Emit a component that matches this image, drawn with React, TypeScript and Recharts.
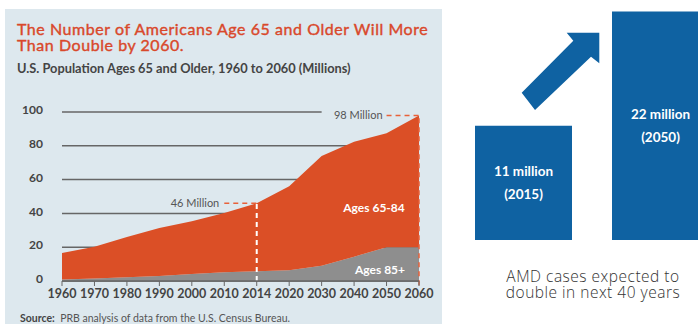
import {
  AreaChart,
  Area,
  XAxis,
  YAxis,
  CartesianGrid,
  ReferenceLine,
  BarChart,
  Bar,
  LabelList,
} from "recharts";

// U.S. population ages 65+, millions
const years = ["1960", "1970", "1980", "1990", "2000", "2010", "2014", "2020", "2030", "2040", "2050", "2060"];
const ages65to84 = [15.6, 18.8, 23.8, 28.3, 31.1, 35.1, 40.2, 49.7, 65, 68, 67.4, 78];
const ages85plus = [0.9, 1.5, 2.2, 3, 4.2, 5.2, 5.8, 6.3, 9, 14.4, 20, 20];
const yTicks = [0, 20, 40, 60, 80, 100];

// AMD cases, millions
const amdValues = [11, 22];
const amdLabels = ["11 million", "22 million"];
const amdYears = ["(2015)", "(2050)"];

const ORANGE = "#db4f26";
const DASH_ORANGE = "#e8613a";
const GRAY = "#8e8e8e";
const BLUE = "#0f62a2";
const PANEL = "#dde8ee";
const TEXT = "#444";

const popData = years.map((year, i) => ({
  year,
  young: ages65to84[i],
  old: ages85plus[i],
}));

const amdData = amdValues.map((value, i) => ({
  name: amdLabels[i],
  value,
  sub: amdYears[i],
}));

function GridLine(props: any) {
  const { x1, y1, x2, y2, y, width } = props;
  // top line stops before the "98 Million" label
  const end = Math.abs(y1 - y) < 1 ? x1 + (width * 8) / 11 : x2;
  return <line x1={x1} y1={y1} x2={end} y2={y2} stroke="#666" strokeWidth={1.5} />;
}

function BoxLabel(props: any) {
  const { x, y, width, height, index } = props;
  const cx = x + width / 2;
  const cy = y + height / 2;
  return (
    <g fill="#fff" fontSize={13.5} fontWeight={700} textAnchor="middle">
      <text x={cx} y={cy - 11.5} dominantBaseline="central">
        {amdLabels[index]}
      </text>
      <text x={cx} y={cy + 11.5} dominantBaseline="central">
        {amdYears[index]}
      </text>
    </g>
  );
}

export default function App() {
  return (
    <div
      style={{
        position: "fixed",
        left: 0,
        top: 0,
        width: 698,
        height: 324,
        overflow: "hidden",
        background: "#fff",
        fontFamily: "Lato, 'Open Sans', sans-serif",
      }}
    >
      <div
        style={{
          position: "absolute",
          left: 5,
          top: 9,
          width: 437,
          height: 315,
          background: PANEL,
        }}
      >
        <div
          style={{
            position: "absolute",
            left: 12,
            top: 12,
            fontSize: 16,
            lineHeight: "16px",
            letterSpacing: 0.55,
            color: "#d9482b",
            fontWeight: 400,
            WebkitTextStroke: "0.4px #d9482b",
            whiteSpace: "nowrap",
          }}
        >
          The Number of Americans Age 65 and Older Will More
          <br />
          Than Double by 2060.
        </div>
        <div
          style={{
            position: "absolute",
            left: 12,
            top: 52,
            fontSize: 12.8,
            lineHeight: "14px",
            color: TEXT,
            fontWeight: 700,
            whiteSpace: "nowrap",
          }}
        >
          U.S. Population Ages 65 and Older, 1960 to 2060 (Millions)
        </div>

        <AreaChart
          width={437}
          height={315}
          data={popData}
          margin={{ top: 103, right: 23, bottom: 18, left: 17 }}
        >
          <CartesianGrid vertical={false} horizontal={GridLine} />
          <XAxis
            dataKey="year"
            interval={0}
            height={25}
            axisLine={{ stroke: "#666", strokeWidth: 1.5 }}
            tickLine={{ stroke: "#666" }}
            tickSize={5}
            tickMargin={3}
            tick={{ fontSize: 12.5, fontWeight: 700, fill: TEXT }}
          />
          <YAxis
            width={40}
            domain={[0, 100]}
            ticks={yTicks}
            axisLine={false}
            tickLine={false}
            tickMargin={13}
            tick={{ fontSize: 12, fontWeight: 700, fill: TEXT, dy: -2 }}
          />
          <Area
            dataKey="old"
            stackId="a"
            type="linear"
            fill={GRAY}
            fillOpacity={1}
            stroke="none"
            isAnimationActive={false}
          />
          <Area
            dataKey="young"
            stackId="a"
            type="linear"
            fill={ORANGE}
            fillOpacity={1}
            stroke="none"
            isAnimationActive={false}
          />
          <ReferenceLine
            segment={[
              { x: "2010", y: 46 },
              { x: "2014", y: 46 },
            ]}
            stroke={DASH_ORANGE}
            strokeWidth={1.5}
            strokeDasharray="5 4"
            label={{ value: "46 Million", position: "left", offset: 5, fontSize: 11, fill: "#555" }}
          />
          <ReferenceLine
            segment={[
              { x: "2014", y: 0 },
              { x: "2014", y: 46 },
            ]}
            stroke="#fff"
            strokeWidth={2}
            strokeDasharray="5 4"
          />
          <ReferenceLine
            segment={[
              { x: "2050", y: 98 },
              { x: "2060", y: 98 },
            ]}
            stroke={DASH_ORANGE}
            strokeWidth={1.5}
            strokeDasharray="5 4"
            label={{ value: "98 Million", position: "left", offset: 4, fontSize: 11, fill: "#555" }}
          />
          <ReferenceLine
            segment={[
              { x: "2060", y: -2.5 },
              { x: "2060", y: 98 },
            ]}
            ifOverflow="visible"
            stroke={DASH_ORANGE}
            strokeWidth={1.5}
            strokeDasharray="5 4"
          />
        </AreaChart>

        <div
          style={{
            position: "absolute",
            left: 369,
            top: 198,
            transform: "translate(-50%, -50%)",
            color: "#fff",
            fontSize: 12,
            fontWeight: 700,
            whiteSpace: "nowrap",
          }}
        >
          Ages 65-84
        </div>
        <div
          style={{
            position: "absolute",
            left: 375,
            top: 260,
            transform: "translate(-50%, -50%)",
            color: "#fff",
            fontSize: 12,
            fontWeight: 700,
            whiteSpace: "nowrap",
          }}
        >
          Ages 85+
        </div>

        <div
          style={{
            position: "absolute",
            left: 15,
            top: 303,
            fontSize: 10.5,
            lineHeight: "13px",
            color: "#555",
            whiteSpace: "nowrap",
          }}
        >
          <b style={{ color: TEXT }}>Source:</b>&nbsp; PRB analysis of data from the U.S. Census Bureau.
        </div>
      </div>

      <div style={{ position: "absolute", left: 455, top: 0 }}>
        <BarChart width={274} height={240} data={amdData} margin={{ top: 0, right: 0, bottom: 0, left: 0 }}>
          <XAxis dataKey="name" hide />
          <YAxis hide domain={[0, 23.1]} />
          <Bar dataKey="value" fill={BLUE} barSize={97} isAnimationActive={false}>
            <LabelList dataKey="value" content={BoxLabel} />
          </Bar>
        </BarChart>
      </div>

      <svg
        width={698}
        height={324}
        style={{ position: "absolute", left: 0, top: 0, pointerEvents: "none" }}
      >
        <polygon
          points="521.7,92.7 573.3,40.7 566.7,32.7 599.3,32.7 599.3,63.3 591,56.7 535,110"
          fill={BLUE}
        />
      </svg>

      <div
        style={{
          position: "absolute",
          left: 483,
          top: 268,
          width: 220,
          textAlign: "center",
          fontSize: 15.5,
          lineHeight: "16px",
          letterSpacing: 0.5,
          color: "#333",
          fontFamily: "'Open Sans', sans-serif",
          fontWeight: 300,
        }}
      >
        AMD cases expected to
        <br />
        double in next 40 years
      </div>
    </div>
  );
}
